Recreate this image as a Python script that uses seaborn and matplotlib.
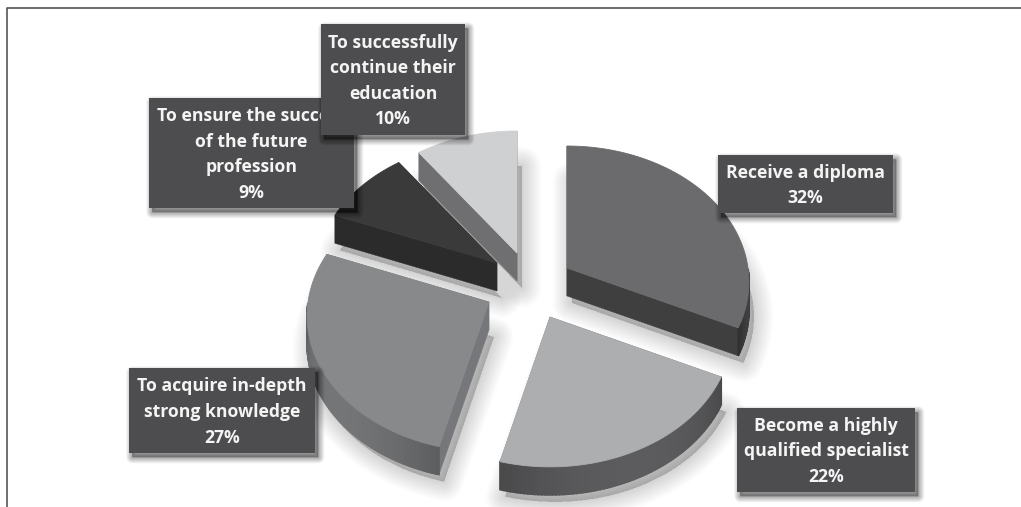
import numpy as np
import matplotlib
matplotlib.use("Agg")
import matplotlib.pyplot as plt
from matplotlib.colors import to_rgb
from matplotlib.patches import Rectangle
import seaborn as sns

# Survey shares, clockwise from twelve o'clock
categories = [
    "Receive a diploma",
    "Become a highly\nqualified specialist",
    "To acquire in-depth\nstrong knowledge",
    "To ensure the success\nof the future\nprofession",
    "To successfully\ncontinue their\neducation",
]
shares = [32, 22, 27, 9, 10]

top_colors = sns.color_palette(["#6b6b6d", "#adaeb0", "#88898b", "#3a3a3b", "#cfd0d2"])
rim_colors = sns.color_palette(["#3f3f40", "#5c5c5e", "#747577", "#2b2b2c", "#6f6f71"])
wall_colors = sns.color_palette(["#3f3f40", "#58585a", "#76777a", "#2b2b2c", "#6f6f71"])

# Layout in figure pixels
WIDTH, HEIGHT = 1021, 507
RADIUS_X, RADIUS_Y, TILT, DEPTH = 181, 134.5, 0.1025, 28
slice_apex = [(567, 268), (550, 317), (489, 302), (497, 263), (517, 253)]
label_boxes = [(718, 155, 893, 213), (737, 408, 915, 492), (129, 368, 315, 453),
               (149, 98, 354, 208), (321, 24, 465, 135)]
BOX_COLOR = "#4d4d4f"

sns.set_theme(style="white")
plt.rcParams["font.family"] = ["Open Sans", "DejaVu Sans"]

fig = plt.figure(figsize=(WIDTH / 100, HEIGHT / 100), dpi=100, facecolor="white")
ax = fig.add_axes([0, 0, 1, 1])
ax.set_xlim(0, WIDTH)
ax.set_ylim(HEIGHT, 0)
ax.axis("off")


def project(apex, angles_deg):
    """Unit-circle directions to pixels, with the near edge of the disc enlarged."""
    a = np.radians(angles_deg)
    x, y = np.cos(a), np.sin(a)
    scale = 1 + TILT * y
    return apex[0] + RADIUS_X * x / scale, apex[1] - RADIUS_Y * y / scale


def soft_shadow(xs, ys, dx, dy, spread, strength, z):
    """Blurred drop shadow built from stacked translucent outlines."""
    for width in np.linspace(spread, 0.5, 22):
        ax.fill(xs + dx, ys + dy, facecolor="black", edgecolor="black", alpha=strength,
                linewidth=width, joinstyle="round", zorder=z)


def draw_slice(apex, start, stop, top, rim, wall):
    angles = np.linspace(start, stop, 80)
    ax_, ay_ = project(apex, angles)
    xs = np.r_[apex[0], ax_]
    ys = np.r_[apex[1], ay_]

    soft_shadow(xs, ys + DEPTH, 5, 7, 28, 0.009, 1)

    # radial walls first, the curved rim over them, the top face last
    for bx, by in ((ax_[0], ay_[0]), (ax_[-1], ay_[-1])):
        ax.fill([apex[0], bx, bx, apex[0]],
                [apex[1], by, by + DEPTH, apex[1] + DEPTH],
                facecolor=wall, edgecolor=wall, linewidth=0.3, zorder=3)
    # only the near half of the rim faces the viewer; it darkens toward both ends
    near = np.flatnonzero(np.sin(np.radians(angles)) < 0)[:-1]
    for n, k in enumerate(near):
        t = abs(2 * n / max(len(near) - 1, 1) - 1)
        shade = tuple(c * (1 - 0.2 * t ** 2) for c in to_rgb(rim))
        ax.fill([ax_[k], ax_[k + 1], ax_[k + 1], ax_[k]],
                [ay_[k], ay_[k + 1], ay_[k + 1] + DEPTH, ay_[k] + DEPTH],
                facecolor=shade, edgecolor=shade, linewidth=1.2, zorder=3)
    ax.fill(xs, ys, facecolor=top, edgecolor=top, linewidth=0.6, zorder=4)


# Cumulative shares give each slice its angular span
boundaries = 90 - 3.6 * np.r_[0, np.cumsum(shares)]
for i, apex in enumerate(slice_apex):
    draw_slice(apex, boundaries[i], boundaries[i + 1],
               top_colors[i], rim_colors[i], wall_colors[i])

# Value labels; later boxes sit on top of earlier ones
for i, (category, share) in enumerate(zip(categories, shares)):
    x0, y0, x1, y1 = label_boxes[i]
    z = 10 + 2 * i
    xs = np.array([x0, x1, x1, x0])
    ys = np.array([y0, y0, y1, y1])
    soft_shadow(xs, ys, 3, 4, 9, 0.016, z)
    ax.add_patch(Rectangle((x0, y0), x1 - x0, y1 - y0, facecolor=BOX_COLOR,
                           edgecolor="none", zorder=z))
    ax.text((x0 + x1) / 2, (y0 + y1) / 2 + 1.5, f"{category}\n{share}%", color="#f4f4f4",
            ha="center", va="center", fontsize=12.7, fontweight="bold",
            linespacing=1.54, zorder=z + 1)

# Page frame
ax.plot([6.5, 6.5, WIDTH], [HEIGHT, 7.5, 7.5], color="#555555", linewidth=1.2, zorder=0)

fig.savefig("out.png", dpi=100, facecolor="white")
